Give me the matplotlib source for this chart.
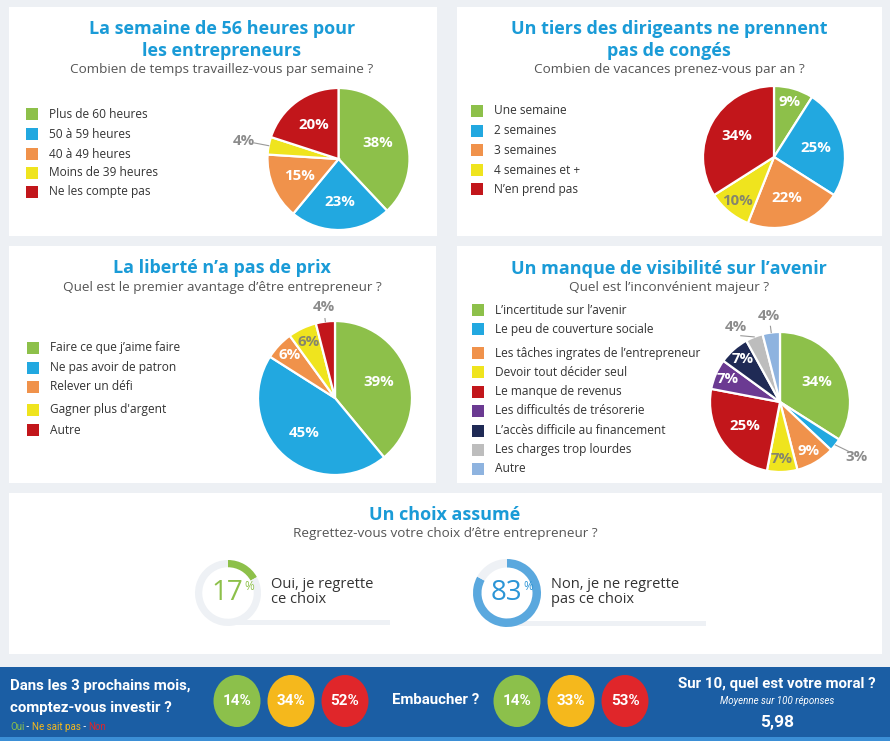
import numpy as np
import matplotlib
matplotlib.use('Agg')
import matplotlib.pyplot as plt
from matplotlib.patches import Rectangle, Ellipse

plt.rcParams['font.family'] = ['Open Sans', 'DejaVu Sans']

hours_labels = ['Plus de 60 heures', '50 à 59 heures', '40 à 49 heures',
                'Moins de 39 heures', 'Ne les compte pas']
hours_values = [38, 23, 15, 4, 20]

leave_labels = ['Une semaine', '2 semaines', '3 semaines', '4 semaines et +',
                'N’en prend pas']
leave_values = [9, 25, 22, 10, 34]

perks_labels = ['Faire ce que j’aime faire', 'Ne pas avoir de patron',
                'Relever un défi', "Gagner plus d'argent", 'Autre']
perks_values = [39, 45, 6, 6, 4]

cons_labels = ['L’incertitude sur l’avenir', 'Le peu de couverture sociale',
               'Les tâches ingrates de l’entrepreneur', 'Devoir tout décider seul',
               'Le manque de revenus', 'Les difficultés de trésorerie',
               'L’accès difficile au financement', 'Les charges trop lourdes', 'Autre']
cons_values = [34, 3, 9, 7, 25, 7, 7, 4, 4]

regret_values = [17, 83]
regret_labels = ['Oui, je regrette\nce choix', 'Non, je ne regrette\npas ce choix']

invest_values = [14, 34, 52]
hire_values = [14, 33, 53]
moral_score = '5,98'

# ---- colours ----
GREEN = '#8dc04a'
BLUE = '#22a8e0'
ORANGE = '#f0924b'
YELLOW = '#efe41e'
RED = '#c2161b'
PURPLE = '#6b3a92'
NAVY = '#1f2a55'
GRAY = '#bdbdbd'
LBLUE = '#8eb3df'
TITLE = '#1a9bd7'
SUB = '#555555'
TXT = '#333333'
RING_BG = '#eef1f5'

five_colors = [GREEN, BLUE, ORANGE, YELLOW, RED]
cons_colors = [GREEN, BLUE, ORANGE, YELLOW, RED, PURPLE, NAVY, GRAY, LBLUE]

W, H = 890, 741
fig = plt.figure(figsize=(W / 100, H / 100), dpi=100)
fig.patch.set_facecolor('#edf0f4')

bg = fig.add_axes([0, 0, 1, 1])
bg.set_xlim(0, W)
bg.set_ylim(H, 0)
bg.axis('off')

# white panels
for x0, y0, x1, y1 in [(9, 7, 437, 236), (457, 7, 882, 236),
                       (9, 246, 436, 483), (457, 246, 882, 483),
                       (9, 493, 882, 654)]:
    bg.add_patch(Rectangle((x0, y0), x1 - x0, y1 - y0, facecolor='white', edgecolor='none'))

# blue band at the bottom
bg.add_patch(Rectangle((0, 667), W, 74, facecolor='#1b5ea4', edgecolor='none'))
bg.add_patch(Rectangle((0, 737), W, 4, facecolor='#3b8fd6', edgecolor='none'))


def header(cx, lines, y_lines, sub, y_sub):
    for line, y in zip(lines, y_lines):
        bg.text(cx, y, line, color=TITLE, fontsize=13, fontweight='bold',
                ha='center', va='center')
    bg.text(cx, y_sub, sub, color=SUB, fontsize=9.7, ha='center', va='center')


def legend(x, ys, labels, colors):
    for y, lab, col in zip(ys, labels, colors):
        bg.add_patch(Rectangle((x, y - 6), 12, 12, facecolor=col, edgecolor='none'))
        bg.text(x + 23, y, lab, color=TXT, fontsize=8.6, va='center')


def pie_axes(cx, cy, r):
    ax = fig.add_axes([(cx - r) / W, 1 - (cy + r) / H, 2 * r / W, 2 * r / H])
    return ax


def draw_pie(cx, cy, r, values, colors, outside=None, dark=()):
    outside = outside or {}
    ax = pie_axes(cx, cy, r)
    wedges, _ = ax.pie(values, colors=colors, startangle=90, counterclock=False,
                       radius=1, wedgeprops=dict(edgecolor='white', linewidth=1.6))
    for i, (w, v) in enumerate(zip(wedges, values)):
        mid = (w.theta1 + w.theta2) / 2
        if i in outside:
            d, shift = outside[i]
            a0 = np.deg2rad(mid)
            a1 = np.deg2rad(mid + shift)
            ax.plot([np.cos(a0) * 1.0, np.cos(a1) * (d - 0.15)],
                    [np.sin(a0) * 1.0, np.sin(a1) * (d - 0.15)],
                    color='#9a9a9a', lw=0.8, clip_on=False)
            ax.text(np.cos(a1) * d, np.sin(a1) * d, f'{v}%', color='#8c8c8c',
                    fontsize=10.8, fontweight='bold', ha='center', va='center')
        else:
            a = np.deg2rad(mid)
            d = 0.6 if v >= 15 else 0.81
            col = '#86866c' if i in dark else 'white'
            ax.text(np.cos(a) * d, np.sin(a) * d, f'{v}%', color=col,
                    fontsize=10.8, fontweight='bold', ha='center', va='center')
    ax.set_xlim(-1, 1)
    ax.set_ylim(-1, 1)
    ax.axis('off')


# panel 1
header(222, ['La semaine de 56 heures pour', 'les entrepreneurs'], [29, 51],
       'Combien de temps travaillez-vous par semaine ?', 69)
legend(26, [114, 134, 154, 173, 192], hours_labels, five_colors)
draw_pie(338.5, 159, 71, hours_values, five_colors, outside={3: (1.36, 0)})

# panel 2
header(669, ['Un tiers des dirigeants ne prennent', 'pas de congés'], [29, 51],
       'Combien de vacances prenez-vous par an ?', 69)
legend(471, [111, 131, 150, 170, 189], leave_labels, five_colors)
draw_pie(774, 157, 71, leave_values, five_colors, dark=(3,))

# panel 3
header(222, ['La liberté n’a pas de prix'], [268],
       'Quel est le premier avantage d’être entrepreneur ?', 287)
legend(27, [348, 368, 387, 410, 430], perks_labels, five_colors)
draw_pie(335, 398, 77, perks_values, five_colors, outside={4: (1.19, 0)}, dark=(3,))

# panel 4
header(669, ['Un manque de visibilité sur l’avenir'], [269],
       'Quel est l’inconvénient majeur ?', 288)
legend(472, [310, 329, 353, 372, 392, 411, 431, 450, 469], cons_labels, cons_colors)
draw_pie(780, 402, 70, cons_values, cons_colors,
         outside={1: (1.35, 2), 7: (1.25, 9), 8: (1.24, 0)}, dark=(3,))

# panel 5 : rings
header(445, ['Un choix assumé'], [515],
       'Regrettez-vous votre choix d’être entrepreneur ?', 533)
ring_specs = [(228, 593, 33, 0.22, GREEN, '#8dc04a', 390),
              (507, 593, 34, 0.25, '#5aa8de', '#2b95d6', 706)]
for v, lab, (cx, cy, r, wd, col, tcol, bar_end) in zip(regret_values, regret_labels, ring_specs):
    bg.add_patch(Rectangle((cx, cy + r - 6), bar_end - cx, 5, facecolor=RING_BG,
                           edgecolor='none'))
    ax = pie_axes(cx, cy, r)
    ax.pie([v, 100 - v], colors=[col, RING_BG], startangle=90, counterclock=False,
           radius=1, wedgeprops=dict(width=wd, edgecolor='none'))
    ax.set_xlim(-1, 1)
    ax.set_ylim(-1, 1)
    ax.axis('off')
    # numbers drawn in the ring axes so they sit above the ring
    ax.text(cx + 15, cy, f'{v}', color=tcol, fontsize=20, ha='right', va='center',
            transform=bg.transData, clip_on=False)
    ax.text(cx + 16, cy - 7, '%', color=tcol, fontsize=8.5, ha='left', va='center',
            transform=bg.transData, clip_on=False)
    bg.text(cx + r + 10, cy - 1, lab, color=TXT, fontsize=10.5, ha='left', va='center',
            linespacing=1.05)

# bottom band
BF = ['Roboto', 'DejaVu Sans']
CG, CY, CR = '#8cc04b', '#f5b81c', '#e0262a'
bg.text(10, 686, 'Dans les 3 prochains mois,', color='white', fontsize=10.8,
        fontweight='bold', va='center', family=BF)
bg.text(10, 708, 'comptez-vous investir ?', color='white', fontsize=10.8,
        fontweight='bold', va='center', family=BF)

renderer = fig.canvas.get_renderer()
xpos = 10
for piece, col in [('Oui', CG), (' - ', 'white'), ('Ne sait pas', CY),
                   (' - ', 'white'), ('Non', CR)]:
    t = bg.text(xpos, 727, piece, color=col, fontsize=7, va='center', family=BF)
    bb = t.get_window_extent(renderer=renderer)
    xpos += bb.width

for x0, vals in [(237, invest_values), (517, hire_values)]:
    for k, (v, col) in enumerate(zip(vals, [CG, CY, CR])):
        x = x0 + k * 54
        bg.add_patch(Ellipse((x, 701), 47, 52, facecolor=col, edgecolor='none'))
        bg.text(x, 701, f'{v}%', color='white', fontsize=11, fontweight='bold',
                ha='center', va='center', family=BF)

bg.text(392, 700, 'Embaucher ?', color='white', fontsize=10.8, fontweight='bold',
        va='center', family=BF)
bg.text(777, 684, 'Sur 10, quel est votre moral ?', color='white', fontsize=10.8,
        fontweight='bold', ha='center', va='center', family=BF)
bg.text(777, 701, 'Moyenne sur 100 réponses', color='white', fontsize=7,
        style='italic', ha='center', va='center', family=BF)
bg.text(777, 722, moral_score, color='white', fontsize=12.5, fontweight='bold',
        ha='center', va='center', family=BF)

fig.savefig('out.png', dpi=100, facecolor=fig.get_facecolor())
